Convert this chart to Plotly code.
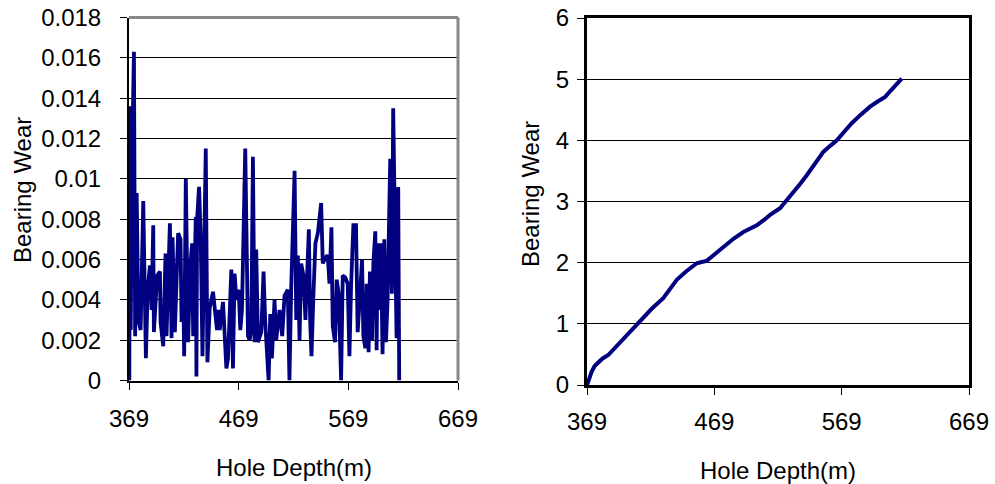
import plotly.graph_objects as go

# ---- Left chart: bearing wear per step ----
depth_step = [369.0, 369.3, 369.9, 370.6, 371.6, 373.5, 374.6, 376.0, 377.5, 379.6,
              382.0, 384.4, 386.0, 388.1, 389.6, 391.1, 391.7, 394.7, 397.2, 397.8,
              400.2, 402.3, 403.2, 406.3, 407.8, 408.7, 410.8, 412.3, 413.8, 416.0,
              416.9, 418.4, 419.3, 420.8, 422.9, 425.0, 426.6, 427.5, 429.9, 430.5,
              431.1, 432.9, 434.4, 436.0, 439.0, 440.5, 442.6, 445.6, 447.8, 449.3,
              450.8, 451.7, 454.7, 456.3, 457.8, 459.3, 462.3, 463.8, 465.3, 466.9,
              469.0, 470.5, 472.0, 475.0, 477.5, 479.0, 480.5, 482.0, 483.5, 485.0,
              486.6, 489.6, 491.7, 493.2, 496.3, 497.8, 499.3, 501.7, 503.2, 506.3,
              508.7, 510.8, 513.8, 515.3, 516.9, 520.0, 521.5, 523.0, 524.5, 526.0,
              528.1, 529.9, 531.2, 533.0, 534.2, 535.4, 537.2, 539.0, 541.2, 544.2,
              545.7, 548.1, 550.2, 551.8, 553.6, 554.8, 556.9, 558.4, 560.2, 562.4,
              563.9, 566.3, 568.4, 570.0, 571.5, 573.6, 576.0, 577.5, 579.6, 581.5,
              582.7, 584.5, 585.7, 587.5, 588.7, 590.6, 591.8, 593.6, 594.8, 595.7,
              597.2, 598.7, 600.2, 601.8, 603.3, 604.8, 607.2, 608.7, 609.9, 611.8,
              613.0, 614.5, 615.4]
wear_step = [0.0021, 0.0, 0.0136, 0.0025, 0.0105, 0.0163, 0.0022, 0.0093, 0.0030, 0.0025,
             0.0089, 0.0011, 0.0045, 0.0057, 0.0035, 0.0077, 0.0024, 0.0052, 0.0054, 0.0029,
             0.0017, 0.0063, 0.0022, 0.0078, 0.0021, 0.0071, 0.0024, 0.0058, 0.0073, 0.0070,
             0.0029, 0.0050, 0.0012, 0.0100, 0.0019, 0.0058, 0.0068, 0.0022, 0.0081, 0.0002,
             0.0080, 0.0096, 0.0070, 0.0012, 0.0115, 0.0009, 0.0036, 0.0044, 0.0032, 0.0025,
             0.0035, 0.0025, 0.0039, 0.0019, 0.0006, 0.0011, 0.0055, 0.0006, 0.0053, 0.0040,
             0.0045, 0.0025, 0.0035, 0.0115, 0.0022, 0.0020, 0.0025, 0.0111, 0.0019, 0.0065,
             0.0019, 0.0024, 0.0054, 0.0029, 0.0000, 0.0033, 0.0011, 0.0040, 0.0020, 0.0035,
             0.0022, 0.0042, 0.0045, 0.0000, 0.0046, 0.0104, 0.0030, 0.0062, 0.0020, 0.0058,
             0.0052, 0.0030, 0.0053, 0.0075, 0.0029, 0.0012, 0.0043, 0.0068, 0.0073, 0.0088,
             0.0058, 0.0061, 0.0062, 0.0048, 0.0076, 0.0027, 0.0019, 0.0050, 0.0043, 0.0000,
             0.0052, 0.0051, 0.0048, 0.0012, 0.0047, 0.0077, 0.0077, 0.0024, 0.0042, 0.0060,
             0.0022, 0.0016, 0.0048, 0.0014, 0.0054, 0.0020, 0.0058, 0.0074, 0.0015, 0.0068,
             0.0035, 0.0068, 0.0013, 0.0070, 0.0019, 0.0040, 0.0110, 0.0043, 0.0135, 0.0042,
             0.0021, 0.0096, 0.0]

# ---- Right chart: cumulative bearing wear ----
depth_cum = [369.0, 370.5, 372.7, 375.0, 377.9, 381.0, 385.7, 391.0, 397.5, 404.0,
             410.6, 420.0, 428.9, 434.0, 439.5, 447.0, 455.2, 459.0, 463.0, 470.0,
             476.1, 484.0, 491.8, 497.0, 502.3, 507.5, 512.8, 520.6, 526.0, 531.1,
             536.5, 541.6, 548.0, 554.6, 560.0, 565.2, 571.0, 576.9, 584.0, 591.3,
             597.0, 603.1, 607.0, 611.0, 613.8, 616.2]
wear_cum = [0.00, 0.10, 0.22, 0.31, 0.38, 0.43, 0.49, 0.61, 0.76, 0.91,
            1.06, 1.25, 1.42, 1.57, 1.72, 1.86, 1.99, 2.01, 2.03, 2.15,
            2.26, 2.39, 2.50, 2.56, 2.61, 2.69, 2.78, 2.89, 3.02, 3.16,
            3.29, 3.43, 3.62, 3.81, 3.91, 4.00, 4.14, 4.28, 4.42, 4.55,
            4.63, 4.71, 4.80, 4.90, 4.96, 5.01]

x_ticks = [369, 469, 569, 669]
y_ticks_left = [0, 0.002, 0.004, 0.006, 0.008, 0.01, 0.012, 0.014, 0.016, 0.018]
y_ticktext_left = ["0", "0.002", "0.004", "0.006", "0.008", "0.01", "0.012", "0.014", "0.016", "0.018"]
y_ticks_right = [0, 1, 2, 3, 4, 5, 6]

W, H = 995, 484
FONT = "Liberation Sans, Arial, sans-serif"
FS = 24
NAVY = "#000080"

fig = go.Figure()
fig.add_trace(go.Scatter(x=depth_step, y=wear_step, mode="lines",
                         line=dict(color=NAVY, width=3.8), xaxis="x", yaxis="y",
                         showlegend=False, hoverinfo="skip"))
fig.add_trace(go.Scatter(x=depth_cum, y=wear_cum, mode="lines",
                         line=dict(color=NAVY, width=4), xaxis="x2", yaxis="y2",
                         showlegend=False, hoverinfo="skip"))

# plot-area edges in window pixels
L_x0, L_x1, L_y0, L_y1 = 129, 458, 17.5, 380.5
R_x0, R_x1, R_y0, R_y1 = 587, 969, 18, 385

def px(x):
    return x / W

def py(y):
    return 1 - y / H

def dx(a, b):
    return [px(a), px(b)]

def dy(top, bot):
    return [py(bot), py(top)]

axis_common = dict(zeroline=False, ticks="outside", ticklen=7, automargin=False,
                   tickcolor="black", tickwidth=1, showline=True, linecolor="black",
                   ticklabeloverflow="allow",
                   tickfont=dict(family=FONT, size=FS, color="black"))

fig.update_layout(
    template="none",
    width=W, height=H, margin=dict(l=0, r=0, t=0, b=0),
    paper_bgcolor="white", plot_bgcolor="white",
    xaxis=dict(domain=dx(L_x0, L_x1), range=[369, 669], tickvals=x_ticks,
               linewidth=2, anchor="y", showgrid=False, ticklabelstandoff=9,
               **axis_common),
    yaxis=dict(domain=dy(L_y0, L_y1), range=[0, 0.018], tickvals=y_ticks_left,
               ticktext=y_ticktext_left, linewidth=2, anchor="x", showgrid=True,
               gridcolor="black", gridwidth=1, ticklabelstandoff=14, **axis_common),
    xaxis2=dict(domain=dx(R_x0, R_x1), range=[369, 669], tickvals=x_ticks,
                linewidth=3, mirror=True, anchor="y2", showgrid=False,
                ticklabelstandoff=6, **axis_common),
    yaxis2=dict(domain=dy(R_y0, R_y1), range=[0, 6], tickvals=y_ticks_right,
                linewidth=3, mirror=True, anchor="x2", showgrid=True,
                gridcolor="black", gridwidth=1, ticklabelstandoff=3, **axis_common),
)

# grey frame (top and right) of the left plot
fig.add_shape(type="line", xref="x domain", yref="y domain", x0=0, x1=1, y0=1, y1=1,
              line=dict(color="#888888", width=3), layer="above")
fig.add_shape(type="line", xref="x domain", yref="y domain", x0=1, x1=1, y0=0, y1=1,
              line=dict(color="#888888", width=3), layer="above")

tf = dict(family=FONT, size=FS, color="black")
def label(text, x, y, angle=0):
    fig.add_annotation(text=text, x=px(x), y=py(y), textangle=angle,
                       xref="paper", yref="paper", xanchor="center", yanchor="middle",
                       showarrow=False, font=tf)

label("Hole Depth(m)", (L_x0 + L_x1) / 2, 467)
label("Hole Depth(m)", (R_x0 + R_x1) / 2, 470)
label("Bearing Wear", 22, 190, -90)
label("Bearing Wear", 530, 194, -90)

fig.write_html("out.html",
               config={"displayModeBar": False, "staticPlot": True},
               post_script="document.body.style.margin='0';"
                           "document.body.style.overflow='hidden';")
